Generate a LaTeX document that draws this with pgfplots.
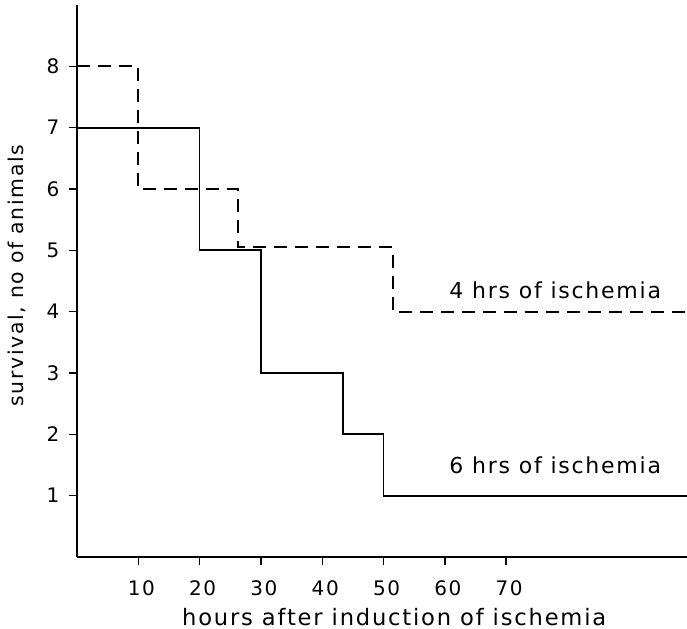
\documentclass[border=0pt]{standalone}
\usepackage{fontspec}
\setmainfont{DejaVu Sans}[LetterSpace=8]
\usepackage{pgfplots}
\pgfplotsset{compat=1.18}

\begin{document}
\fontsize{11}{13}\selectfont
\begin{tikzpicture}
\begin{axis}[name=ax, scale only axis, width=305pt, height=276pt,
  xmin=0, xmax=99.5, ymin=0, ymax=9,
  axis lines=left, axis line style={-, line width=0.9pt},
  xtick={10,20,...,70}, ytick={1,...,8},
  tick align=outside, major tick length=4pt,
  tick style={line width=0.7pt, black},
  /pgf/number format/assume math mode=true,
  tick label style={font=\fontsize{10}{12}\selectfont},
  xticklabel style={yshift=-4pt, xshift=1.5pt},
  yticklabel style={xshift=-1pt},
  xlabel={hours after induction of ischemia},
  ylabel={survival, no of animals},
  xlabel style={at={(axis description cs:0.52,-0.108)}, anchor=center, font=\fontsize{11.3}{13}\selectfont},
  ylabel style={at={(axis description cs:-0.098,0.51)}, anchor=center, font=\fontsize{10.2}{12}\selectfont},
  clip=false]
% 4 hrs of ischemia
\addplot[const plot, black, line width=0.85pt, dash pattern=on 6.5pt off 4pt]
  coordinates {(0,8) (10,6) (26.3,5.05) (51.5,4) (99.5,4)};
% 6 hrs of ischemia
\addplot[const plot, black, line width=0.85pt]
  coordinates {(0,7) (20,5) (30,3) (43.4,2) (50,1) (99.5,1)};
\node at (axis cs:78,4.35) {4 hrs of ischemia};
\node at (axis cs:78,1.5) {6 hrs of ischemia};
\end{axis}
\pgfresetboundingbox
\path ([shift={(-38.5pt,-35.75pt)}]ax.south west) rectangle ([shift={(0pt,2.5pt)}]ax.north east);
\end{tikzpicture}
\end{document}
